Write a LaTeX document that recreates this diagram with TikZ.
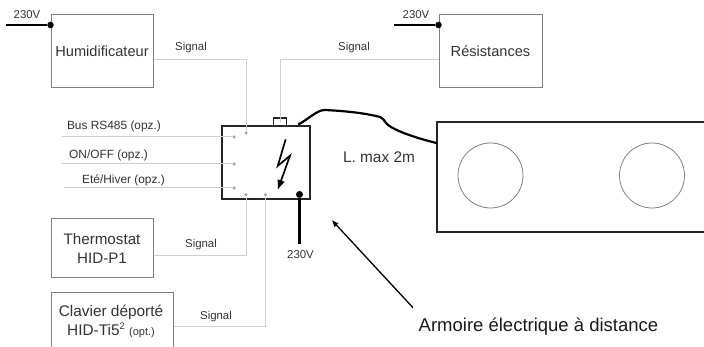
\documentclass[tikz,border=0pt]{standalone}
\usepackage{fontspec}
\setmainfont{Liberation Sans}
\usetikzlibrary{arrows.meta}
\definecolor{txt}{HTML}{333333}
\definecolor{sig}{HTML}{CFCFCF}
\definecolor{edge}{HTML}{808080}
\newcommand{\fs}[1]{\fontsize{#1}{#1}\selectfont}
\tikzset{
  x=1pt,y=-1pt,
  devbox/.style={draw=edge,line width=1pt,fill=none,inner sep=0pt,align=center,text=txt,font=\fontsize{15.2}{18.6}\selectfont},
  darkbox/.style={draw=black!85,line width=1.5pt,inner sep=0pt},
  lab/.style={text=txt,inner sep=0pt,align=center,font=\fs{11.4}},
  optlab/.style={text=txt,inner sep=0pt,align=center,font=\fs{11.9}},
  biglab/.style={text=txt,inner sep=0pt,align=center,font=\fontsize{15.4}{18.8}\selectfont},
  sigline/.style={draw=sig,line width=1pt},
  dot/.style={circle,fill=black!35,inner sep=0pt,minimum size=3.5pt},
  powdot/.style={circle,fill=black,inner sep=0pt,minimum size=7pt},
  power/.style={draw=black,line width=2.2pt},
}
\begin{document}
\begin{tikzpicture}
\useasboundingbox (0,0) rectangle (704,347);
\clip (0,0) rectangle (704,347);
% boxes
\node[devbox,font=\fs{14.6},minimum width=102pt,minimum height=73pt] (hum) at (102,51.5) {Humidificateur};
\node[devbox,font=\fs{14.6},minimum width=103pt,minimum height=73pt] (res) at (490.5,51.5) {Résistances};
\node[devbox,minimum width=102pt,minimum height=59pt] (the) at (102,248.5) {Thermostat\\HID-P1};
\node[devbox,minimum width=122pt,minimum height=70pt] (cla) at (112,328) {};
\node[biglab] (clat) at (111,321.5) {Clavier déporté\\HID-Ti5\raisebox{5.5pt}{\fs{9.5}2} {\fs{11}(opt.)}};
\node[darkbox,minimum width=88pt,minimum height=73pt] (arm) at (266,162.5) {};
\node[draw=black!85,line width=1.2pt,minimum width=13pt,minimum height=8pt,inner sep=0pt] (bump) at (280,122) {};
\node[darkbox,minimum width=270pt,minimum height=110pt] (pan) at (572,177) {};
\node[draw=edge,line width=.8pt,circle,minimum size=65pt,inner sep=0pt] (c1) at (490.5,175.5) {};
\node[draw=edge,line width=.8pt,circle,minimum size=65pt,inner sep=0pt] (c2) at (652,175.5) {};
% dots
\node[dot] (dBus) at (234,137) {};
\node[dot] (dOn) at (234,164) {};
\node[dot] (dEte) at (234,188) {};
\node[dot] (dHum) at (246,133) {};
\node[dot] (dThe) at (246,194.7) {};
\node[dot] (dCla) at (265.5,194.7) {};
\node[powdot] (dPow) at (299.5,194.5) {};
\node[powdot,minimum size=6.5pt] (dH) at (hum.north west |- 0,25) {};
\node[powdot,minimum size=6.5pt] (dR) at (res.north west |- 0,25) {};
% free ends
\coordinate (eBus) at (62,137);
\coordinate (eOn) at (62,164);
\coordinate (eEte) at (64,188);
\coordinate (ePow) at (299.5,244);
\coordinate (eH) at (6,25);
\coordinate (eR) at (394,25);
\coordinate (aS) at (413,307.7);
\coordinate (aE) at (331.7,220);
% signal lines
\draw[sigline] (hum.east |- 0,60) -| (dHum);
\draw[sigline] (res.west |- 0,60) -| (bump.center);
\draw[sigline] (eBus) -- (dBus);
\draw[sigline] (eOn) -- (dOn);
\draw[sigline] (eEte) -- (dEte);
\draw[sigline] (the.east |- 0,256) -| (dThe);
\draw[sigline] (cla.east |- 0,326.7) -| (dCla);
% power
\draw[power] (eH) -- (dH);
\draw[power] (eR) -- (dR);
\draw[power] (dPow) -- (ePow);
% cable
\draw[draw=black,line width=2.2pt,line cap=round,line join=round] (arm.north east) ++(-12,-1) coordinate (cS)
  .. controls (310,118) and (317,110) .. (325,110)
  .. controls (345,111) and (365,113) .. (380,117)
  .. controls (385,119) and (384,123) .. (391,127)
  .. controls (405,135) and (425,140) .. (pan.west |- 0,143);
% lightning
\draw[black,line width=1.7pt,line join=miter,-{Latex[length=10pt,width=8pt]}] (285.7,139.3) -- (277.7,166) -- (290,155.7) -- (277.7,190);
% arrow
\draw[black,line width=1.3pt,-{Latex[length=7pt,width=6pt]}] (aS) -- (aE);
% labels
\node[lab] (t1) at (27,15) {230V};
\node[lab] (t2) at (416,15) {230V};
\node[lab] (t3) at (300.5,255) {230V};
\node[lab] (s1) at (191,48) {Signal};
\node[lab] (s2) at (354,48) {Signal};
\node[lab] (s3) at (201,245) {Signal};
\node[lab] (s4) at (216,317) {Signal};
\node[optlab] (b1) at (114,126) {Bus RS485 (opz.)};
\node[optlab] (b2) at (108.5,155) {ON/OFF (opz.)};
\node[optlab] (b3) at (123.5,180) {Eté/Hiver (opz.)};
\node[biglab] (lm) at (379,157) {L. max 2m};
\node[text=black!90,inner sep=0pt,font=\fs{18.5}] (ar) at (538.5,327) {Armoire électrique à distance};
\end{tikzpicture}
\end{document}
